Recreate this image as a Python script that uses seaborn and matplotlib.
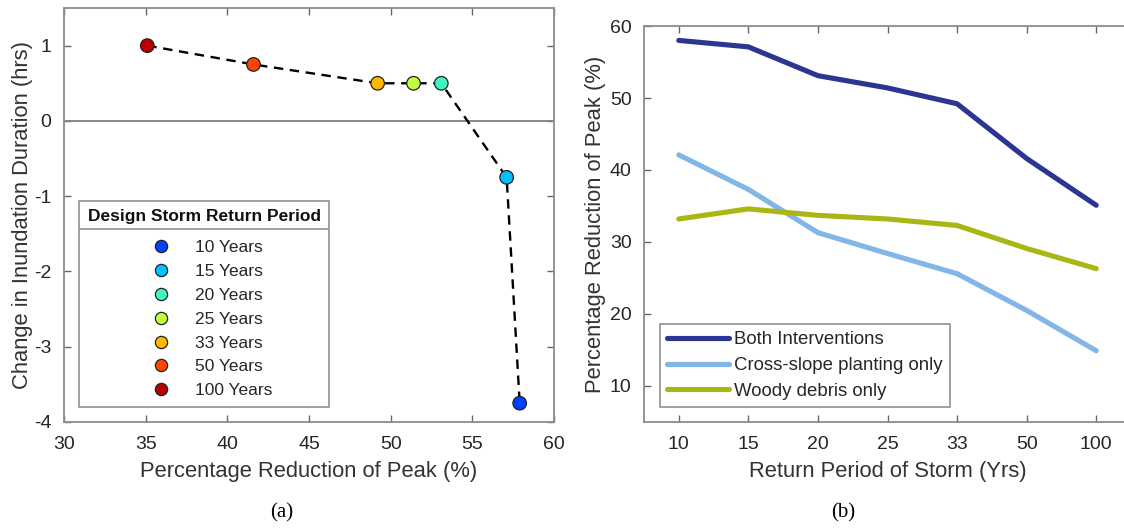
import matplotlib
matplotlib.use("Agg")
import matplotlib.pyplot as plt
import seaborn as sns
import pandas as pd
from matplotlib.lines import Line2D

# ---- data ----
storm_labels = ["10 Years", "15 Years", "20 Years", "25 Years", "33 Years", "50 Years", "100 Years"]
storm_colors = ["#0040ff", "#00c0ff", "#40f5c0", "#c0ff40", "#ffb800", "#ff4500", "#bb0000"]
peak_reduction = [57.9, 57.1, 53.1, 51.4, 49.2, 41.6, 35.1]
inundation_change = [-3.75, -0.75, 0.5, 0.5, 0.5, 0.75, 1.0]

return_periods = ["10", "15", "20", "25", "33", "50", "100"]
both_interventions = [58.0, 57.1, 53.1, 51.4, 49.2, 41.6, 35.1]
cross_slope = [42.1, 37.3, 31.3, 28.4, 25.6, 20.5, 14.9]
woody_debris = [33.2, 34.6, 33.7, 33.2, 32.3, 29.1, 26.3]
series_names = ["Both Interventions", "Cross-slope planting only", "Woody debris only"]
series_colors = ["#2d3593", "#82b6e6", "#a9b714"]

sns.set_theme(style="white")
plt.rcParams["font.family"] = ["Liberation Sans", "DejaVu Sans"]
plt.rcParams["axes.unicode_minus"] = False
TXT = "#262626"
LBL = "#333333"
SPINE = "#8c8c8c"
TICK_FS = 14
LABEL_FS = 15.8

fig = plt.figure(figsize=(11.24, 5.30), dpi=100)
axL = fig.add_axes([64 / 1124, 108 / 530, 490 / 1124, 414 / 530])
axR = fig.add_axes([644 / 1124, 108 / 530, 487 / 1124, 396 / 530])

def style(ax):
    for s in ax.spines.values():
        s.set_color(SPINE)
        s.set_linewidth(1.3)
    ax.tick_params(direction="in", length=5, width=1, color="#666666",
                   labelsize=TICK_FS, labelcolor=TXT, top=True, right=True,
                   bottom=True, left=True)
    ax.tick_params(axis="x", pad=10)
    ax.tick_params(axis="y", pad=9)

# ---- left panel ----
dfL = pd.DataFrame({"x": peak_reduction, "y": inundation_change, "storm": storm_labels})
axL.axhline(0, color="#808080", lw=1.3, zorder=1)
order = dfL.sort_values("x")
sns.lineplot(data=order, x="x", y="y", ax=axL, color="black", lw=1.7,
             linestyle=(0, (4, 2.8)), sort=False, estimator=None, zorder=2)
sns.scatterplot(data=dfL, x="x", y="y", hue="storm", hue_order=storm_labels,
                palette=storm_colors, s=95, edgecolor="#222222", linewidth=0.9,
                ax=axL, zorder=3, legend=False)
axL.set_xlim(30, 60)
axL.set_ylim(-4, 1.5)
axL.set_xticks([30, 35, 40, 45, 50, 55, 60])
axL.set_yticks([-4, -3, -2, -1, 0, 1])
style(axL)
axL.set_xlabel("Percentage Reduction of Peak (%)", fontsize=LABEL_FS, color=LBL, labelpad=6)
axL.set_ylabel("Change in Inundation Duration (hrs)", fontsize=LABEL_FS, color=LBL, labelpad=1)

LFS = 12.5
handles = [Line2D([], [], marker="o", ls="", markersize=8.8, markerfacecolor=c,
                  markeredgecolor="#222222", markeredgewidth=0.9) for c in storm_colors]
legL = axL.legend(handles, storm_labels, title="Design Storm Return Period",
                  loc="lower left", bbox_to_anchor=(15 / 490, 15 / 414), borderaxespad=0,
                  frameon=True, fontsize=LFS,
                  title_fontproperties={"weight": "bold", "size": 12.5},
                  alignment="left", handlelength=8.45, handletextpad=-2.26,
                  labelspacing=0.5, borderpad=0.5, fancybox=False,
                  edgecolor="#999999", framealpha=1)
legL._legend_box.sep = 11.5
legL.get_frame().set_linewidth(1.3)
for t in legL.get_texts():
    t.set_color(TXT)
legL.get_title().set_color("#111111")

# ---- right panel ----
dfR = pd.DataFrame({
    "period": return_periods * 3,
    "value": both_interventions + cross_slope + woody_debris,
    "series": sum([[n] * len(return_periods) for n in series_names], []),
})
sns.lineplot(data=dfR, x="period", y="value", hue="series", hue_order=series_names,
             palette=series_colors, lw=3.7, ax=axR, sort=False, estimator=None)
axR.set_xlim(-0.5, 6.5)
axR.set_ylim(5, 60)
axR.set_yticks([10, 20, 30, 40, 50, 60])
style(axR)
axR.set_xlabel("Return Period of Storm (Yrs)", fontsize=LABEL_FS, color=LBL, labelpad=6)
axR.set_ylabel("Percentage Reduction of Peak (%)", fontsize=LABEL_FS, color=LBL, labelpad=2.5)
legR = axR.legend(loc="lower left", bbox_to_anchor=(16 / 487, 15 / 396), borderaxespad=0,
                  fontsize=13.4, handlelength=3.33, handletextpad=0.27, labelspacing=0.47,
                  borderpad=0.38, fancybox=False, edgecolor="#999999", framealpha=1)
legR.get_frame().set_linewidth(1.3)
for t in legR.get_texts():
    t.set_color(TXT)
for l in legR.get_lines():
    l.set_linewidth(3.7)

# captions
fig.text(282 / 1124, 1 - 513 / 530, "(a)", ha="center", va="center",
         fontsize=15, family="Liberation Serif", color="black")
fig.text(843 / 1124, 1 - 513 / 530, "(b)", ha="center", va="center",
         fontsize=15, family="Liberation Serif", color="black")

# separator under legend title
fig.canvas.draw()
r = fig.canvas.get_renderer()
fb = legL.get_frame().get_window_extent(r)
tb = legL.get_title().get_window_extent(r)
yline = tb.y0 - 5
inv = fig.transFigure.inverted()
(x0, y0) = inv.transform((fb.x0, yline))
(x1, _) = inv.transform((fb.x1, yline))
fig.add_artist(Line2D([x0, x1], [y0, y0], transform=fig.transFigure,
                      color="#999999", lw=1.3, zorder=10))

fig.savefig("out.png", dpi=100)
